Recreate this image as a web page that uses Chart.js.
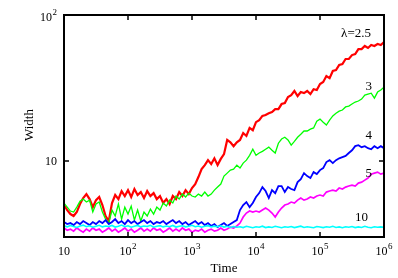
<!DOCTYPE html>
<html>
<head>
<meta charset="utf-8">
<script src="https://cdn.jsdelivr.net/npm/chart.js@4.4.0/dist/chart.umd.min.js"></script>
<style>
  html, body { margin: 0; padding: 0; background: #fff; }
</style>
</head>
<body>
<canvas id="grafico" width="398" height="278"></canvas>
<script>
// log10 of time for each sample
const logTime = [
  1.00, 1.05, 1.10, 1.15, 1.20, 1.25, 1.30, 1.35, 1.40, 1.45,
  1.50, 1.55, 1.60, 1.65, 1.70, 1.75, 1.80, 1.85, 1.90, 1.95,
  2.00, 2.05, 2.10, 2.15, 2.20, 2.25, 2.30, 2.35, 2.40, 2.45,
  2.50, 2.55, 2.60, 2.65, 2.70, 2.75, 2.80, 2.85, 2.90, 2.95,
  3.00, 3.05, 3.10, 3.15, 3.20, 3.25, 3.30, 3.35, 3.40, 3.45,
  3.50, 3.55, 3.60, 3.65, 3.70, 3.75, 3.80, 3.85, 3.90, 3.95,
  4.00, 4.05, 4.10, 4.15, 4.20, 4.25, 4.30, 4.35, 4.40, 4.45,
  4.50, 4.55, 4.60, 4.65, 4.70, 4.75, 4.80, 4.85, 4.90, 4.95,
  5.00, 5.05, 5.10, 5.15, 5.20, 5.25, 5.30, 5.35, 5.40, 5.45,
  5.50, 5.55, 5.60, 5.65, 5.70, 5.75, 5.80, 5.85, 5.90, 5.95,
  6.00
];

// width, lambda = 2.5
const width25 = [
  4.97, 4.59, 4.31, 4.18, 4.45, 5.05, 5.55, 5.91, 5.46, 4.81,
  5.37, 5.64, 4.97, 4.18, 3.86, 5.13, 5.82, 5.46, 6.20, 5.73,
  6.29, 5.64, 6.40, 5.82, 6.10, 5.55, 6.20, 5.73, 6.00, 5.46,
  5.73, 5.13, 5.46, 5.05, 5.73, 5.46, 6.10, 5.73, 6.29, 5.91,
  6.50, 6.92, 7.73, 8.77, 9.34, 10.1, 9.49, 10.4, 9.34, 10.3,
  11.1, 13.9, 13.4, 12.6, 13.4, 13.9, 15.5, 14.8, 16.8, 16.2,
  18.4, 19.0, 20.3, 20.6, 21.2, 21.6, 22.6, 22.6, 24.5, 24.9,
  27.4, 28.2, 30.1, 27.8, 29.6, 29.1, 30.1, 28.7, 31.0, 30.6,
  33.6, 34.7, 38.1, 36.9, 41.3, 41.9, 45.4, 46.1, 49.9, 49.9,
  53.1, 54.0, 58.4, 58.4, 61.3, 59.4, 62.3, 61.3, 63.2, 62.3,
  65.2
];

// lambda = 3
const width3 = [
  5.13, 4.81, 4.52, 4.45, 4.81, 5.29, 5.46, 5.21, 5.37, 4.45,
  5.05, 5.21, 4.45, 3.98, 3.74, 4.59, 4.18, 5.05, 3.98, 4.81,
  4.31, 4.89, 3.92, 4.59, 3.86, 4.45, 4.18, 4.66, 4.31, 4.81,
  4.59, 5.13, 4.89, 5.37, 5.13, 5.73, 5.46, 5.91, 5.64, 6.00,
  5.73, 5.64, 5.91, 5.73, 6.10, 5.73, 5.91, 6.29, 6.60, 6.92,
  7.85, 8.23, 8.63, 8.77, 9.34, 8.91, 9.64, 10.1, 10.9, 12.0,
  10.9, 11.3, 11.6, 12.0, 12.4, 11.8, 11.3, 13.2, 14.1, 14.5,
  13.9, 12.8, 13.6, 14.5, 15.2, 16.0, 16.0, 16.5, 16.8, 18.7,
  19.3, 18.4, 17.6, 19.0, 20.3, 21.2, 21.9, 22.3, 23.4, 23.7,
  24.5, 25.3, 25.7, 26.5, 28.2, 28.7, 29.1, 26.9, 29.6, 30.6,
  32.0
];

// lambda = 4
const width4 = [
  3.80, 3.68, 3.74, 3.62, 3.80, 3.68, 3.86, 3.74, 3.62, 3.80,
  3.68, 3.86, 3.74, 3.92, 3.68, 3.80, 3.98, 3.74, 3.86, 3.68,
  3.92, 3.74, 3.86, 3.68, 3.80, 3.92, 3.74, 3.86, 3.68, 3.80,
  3.74, 3.86, 3.68, 3.80, 3.92, 3.74, 3.86, 3.68, 3.80, 3.62,
  3.74, 3.86, 3.68, 3.80, 3.62, 3.74, 3.57, 3.68, 3.51, 3.62,
  3.74, 3.57, 3.68, 3.80, 3.92, 4.59, 4.97, 5.21, 4.81, 5.13,
  5.64, 6.00, 6.60, 6.20, 5.55, 6.29, 6.00, 6.71, 6.71, 6.10,
  6.60, 6.40, 6.29, 7.14, 7.49, 8.23, 7.85, 7.61, 8.36, 8.10,
  8.63, 8.91, 9.80, 10.1, 9.64, 10.1, 10.4, 10.6, 10.8, 11.3,
  11.8, 12.6, 12.8, 12.4, 12.6, 12.2, 12.0, 12.6, 12.2, 12.6,
  12.2
];

// lambda = 5
const width5 = [
  3.46, 3.34, 3.40, 3.29, 3.46, 3.34, 3.24, 3.40, 3.29, 3.46,
  3.34, 3.40, 3.24, 3.34, 3.46, 3.29, 3.40, 3.24, 3.34, 3.46,
  3.29, 3.40, 3.24, 3.34, 3.46, 3.29, 3.40, 3.29, 3.46, 3.34,
  3.40, 3.24, 3.34, 3.46, 3.29, 3.40, 3.29, 3.46, 3.34, 3.40,
  3.24, 3.34, 3.29, 3.40, 3.24, 3.34, 3.40, 3.29, 3.34, 3.46,
  3.34, 3.40, 3.51, 3.46, 3.57, 3.74, 4.11, 4.38, 4.52, 4.45,
  4.52, 4.45, 4.59, 4.74, 4.59, 4.38, 4.11, 4.45, 4.74, 4.97,
  5.05, 5.21, 5.13, 5.37, 5.55, 5.37, 5.46, 5.64, 5.55, 5.73,
  5.82, 5.73, 6.10, 6.20, 6.29, 6.20, 6.50, 6.40, 6.60, 6.71,
  6.81, 6.71, 7.03, 7.14, 7.37, 7.61, 8.10, 8.23, 8.36, 8.10,
  8.23
];

// lambda = 10
const width10 = [
  3.58, 3.52, 3.60, 3.54, 3.49, 3.57, 3.62, 3.53, 3.58, 3.50,
  3.56, 3.61, 3.52, 3.57, 3.54, 3.60, 3.51, 3.56, 3.62, 3.53,
  3.58, 3.50, 3.55, 3.60, 3.52, 3.57, 3.54, 3.61, 3.50, 3.56,
  3.59, 3.52, 3.57, 3.53, 3.60, 3.51, 3.56, 3.58, 3.52, 3.55,
  3.61, 3.53, 3.57, 3.50, 3.55, 3.59, 3.52, 3.56, 3.53, 3.58,
  3.51, 3.55, 3.49, 3.54, 3.50, 3.53, 3.48, 3.55, 3.51, 3.47,
  3.53, 3.50, 3.56, 3.48, 3.52, 3.49, 3.55, 3.51, 3.47, 3.53,
  3.50, 3.54, 3.48, 3.52, 3.56, 3.49, 3.53, 3.50, 3.47, 3.54,
  3.51, 3.48, 3.53, 3.50, 3.55, 3.49, 3.52, 3.47, 3.53, 3.50,
  3.54, 3.48, 3.52, 3.49, 3.55, 3.50, 3.47, 3.53, 3.50, 3.52,
  3.49
];

const xTicks = [10, 100, 1000, 10000, 100000, 1000000];
const xTickExp = ["", "2", "3", "4", "5", "6"];
const yTicks = [10, 100];
const yTickExp = ["", "2"];
const curveNames = ["\u03bb=2.5", "3", "4", "5", "10"];

const serif = "'Liberation Serif', 'Times New Roman', serif";

function pontos(serie) {
  return logTime.map((e, i) => ({ x: Math.pow(10, e), y: serie[i] }));
}

// draws "10" with an optional superscript
function potencia(ctx, exp, cx, base, align) {
  ctx.font = "12px " + serif;
  const wBase = ctx.measureText("10").width;
  ctx.font = "9px " + serif;
  const wExp = exp ? ctx.measureText(exp).width + 0.5 : 0;
  const total = wBase + wExp;
  let x0 = align === "right" ? cx - total : cx - total / 2;
  ctx.textAlign = "left";
  ctx.font = "12px " + serif;
  ctx.fillText("10", x0, base);
  if (exp) {
    ctx.font = "9px " + serif;
    ctx.fillText(exp, x0 + wBase + 0.5, base - 6);
  }
}

const moldura = {
  id: "moldura",
  afterDatasetsDraw(chart) {
    const { ctx, chartArea: a, scales } = chart;
    ctx.save();
    ctx.strokeStyle = "#000";
    ctx.fillStyle = "#000";
    ctx.lineWidth = 2;
    ctx.strokeRect(a.left, a.top, a.right - a.left, a.bottom - a.top);

    ctx.lineWidth = 1.5;
    ctx.beginPath();
    xTicks.forEach(v => {
      const x = Math.round(scales.x.getPixelForValue(v));
      ctx.moveTo(x, a.bottom); ctx.lineTo(x, a.bottom - 5);
      ctx.moveTo(x, a.top); ctx.lineTo(x, a.top + 5);
    });
    yTicks.forEach(v => {
      const y = Math.round(scales.y.getPixelForValue(v));
      ctx.moveTo(a.left, y); ctx.lineTo(a.left + 5, y);
      ctx.moveTo(a.right, y); ctx.lineTo(a.right - 5, y);
    });
    ctx.stroke();

    ctx.textBaseline = "alphabetic";
    xTicks.forEach((v, i) => {
      const x = scales.x.getPixelForValue(v);
      potencia(ctx, xTickExp[i], x, a.bottom + 18, "center");
    });
    yTicks.forEach((v, i) => {
      const y = scales.y.getPixelForValue(v);
      potencia(ctx, yTickExp[i], a.left - 7, y + (yTickExp[i] ? 6 : 4), "right");
    });

    // axis titles
    ctx.font = "13px " + serif;
    ctx.textAlign = "center";
    ctx.fillText("Time", (a.left + a.right) / 2, 272);
    ctx.save();
    ctx.translate(33, 125);
    ctx.rotate(-Math.PI / 2);
    ctx.fillText("Width", 0, 0);
    ctx.restore();

    // curve labels
    ctx.textAlign = "right";
    ctx.fillText(curveNames[0], 371, 37);
    ctx.fillText(curveNames[1], 372, 90);
    ctx.fillText(curveNames[2], 372, 139);
    ctx.fillText(curveNames[3], 372, 177);
    ctx.fillText(curveNames[4], 368, 221);
    ctx.restore();
  }
};

function serie(dados, cor, larg) {
  return {
    data: pontos(dados),
    borderColor: cor,
    borderWidth: larg,
    pointRadius: 0,
    tension: 0,
    fill: false
  };
}

const ctx = document.getElementById("grafico").getContext("2d");
const grafico = new Chart(ctx, {
  type: "line",
  data: {
    datasets: [
      serie(width10, "#00ffff", 1.6),
      serie(width5, "#ff00ff", 1.7),
      serie(width4, "#0000ff", 1.8),
      serie(width3, "#00ff00", 1.3),
      serie(width25, "#ff0000", 2.2)
    ]
  },
  options: {
    responsive: false,
    animation: false,
    devicePixelRatio: 1,
    layout: { padding: { left: 64, right: 14, top: 15, bottom: 41 } },
    plugins: { legend: { display: false }, tooltip: { enabled: false } },
    scales: {
      x: { type: "logarithmic", min: 10, max: 1000000, display: false },
      y: { type: "logarithmic", min: 3, max: 100, display: false }
    }
  },
  plugins: [moldura]
});
</script>
</body>
</html>
